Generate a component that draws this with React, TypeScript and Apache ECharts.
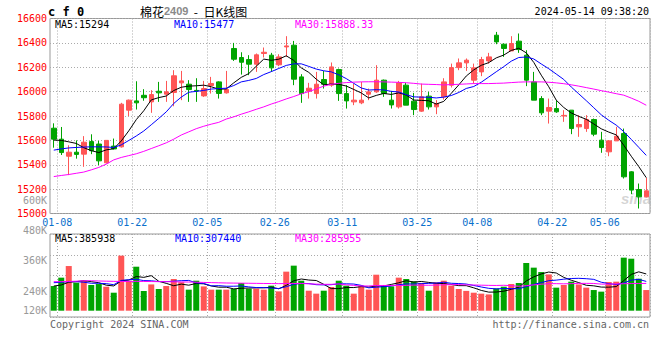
import React, { useEffect, useRef } from "react";
import * as echarts from "echarts";

const DATES = [
  "01-08","01-09","01-10","01-11","01-12","01-15","01-16","01-17","01-18","01-19",
  "01-22","01-23","01-24","01-25","01-26","01-29","01-30","01-31","02-01","02-02",
  "02-05","02-06","02-07","02-08","02-19","02-20","02-21","02-22","02-23","02-26",
  "02-27","02-28","03-01","03-04","03-05","03-06","03-07","03-08","03-11","03-12",
  "03-13","03-14","03-15","03-18","03-19","03-20","03-21","03-22","03-25","03-26",
  "03-27","03-28","03-29","04-01","04-02","04-03","04-08","04-09","04-10","04-11",
  "04-12","04-15","04-16","04-17","04-18","04-19","04-22","04-23","04-24","04-25",
  "04-26","04-29","04-30","05-06","05-07","05-08","05-09","05-10","05-13","05-14",
];
const XTICKS = ["01-08","01-22","02-05","02-26","03-11","03-25","04-08","04-22","05-06"];

const OPEN = [15700,15610,15470,15503,15487,15590,15570,15416,15553,15547,
  15848,15924,15970,15916,16003,15979,15993,16072,16061,16010,
  15965,16050,16080,15990,16354,16280,16263,16225,16313,16299,
  16220,16367,16381,16121,16004,15984,16099,16053,16181,15984,
  15916,15908,15979,15998,16094,15930,15875,16053,15922,15840,
  15963,15875,15957,16053,16197,16236,16094,16162,16252,16463,
  16389,16334,16414,16299,16080,15943,15840,15861,15800,15848,
  15711,15697,15771,15602,15506,15596,15656,15342,15197,15137];
const CLOSE = [15610,15500,15503,15485,15585,15515,15432,15600,15530,15897,
  15930,15908,15950,15976,15990,15998,16130,16088,16017,16005,
  16025,16067,15985,16017,16266,16241,16225,16302,16323,16195,
  16285,16375,16102,15984,16028,16061,16061,16203,15984,15924,
  15930,15930,15998,16094,15984,15891,16072,15889,15853,15957,
  15875,15902,16080,16197,16236,16258,16195,16263,16285,16408,
  16354,16395,16345,16094,15930,15826,15870,15834,15805,15697,
  15730,15771,15651,15541,15596,15634,15301,15192,15137,15186];
const LOW = [15540,15480,15315,15450,15383,15487,15397,15410,15525,15541,
  15800,15853,15925,15826,15916,15916,15880,15930,15916,15916,
  15957,15984,15943,15984,16252,16140,16135,16162,16280,16162,
  16209,16285,16053,15908,15943,15943,16025,16039,15924,15861,
  15889,15897,15930,15990,15957,15861,15861,15889,15807,15834,
  15853,15815,15935,16034,16176,16170,16066,16127,16230,16389,
  16285,16334,16318,16045,15930,15807,15738,15826,15752,15651,
  15629,15670,15634,15498,15470,15596,15287,15159,15041,15132];
const HIGH = [15740,15710,15560,15600,15635,15650,15596,15600,15615,15908,
  15935,16085,16020,16012,16080,16088,16176,16170,16094,16110,
  16088,16121,16085,16170,16400,16323,16299,16313,16362,16318,
  16307,16455,16416,16143,16072,16162,16170,16239,16189,16053,
  16066,16080,16025,16217,16099,16006,16088,16072,15990,16066,
  15998,15930,16110,16230,16272,16272,16230,16285,16318,16490,
  16395,16455,16477,16340,16162,15963,15943,15930,15848,15848,
  15807,15807,15779,15670,15602,15711,15697,15347,15246,15293];

const MA5 = [15602,15600,15588,15575,15540,15516,15500,15522,15532,15595,
  15678,15770,15843,15932,15951,15964,16009,16036,16045,16048,
  16053,16040,16020,16022,16072,16117,16148,16208,16267,16257,
  16266,16294,16256,16195,16158,16102,16056,16062,16060,16046,
  16018,15989,15948,15969,15985,15977,15990,15972,15931,15928,
  15925,15898,15920,15986,16055,16128,16178,16216,16238,16277,
  16300,16338,16356,16318,16240,16135,16040,15930,15870,15825,
  15797,15773,15735,15695,15668,15645,15560,15470,15385,15294];
const MA10 = [15520,15530,15538,15542,15545,15547,15547,15546,15542,15563,
  15599,15636,15677,15728,15780,15834,15903,15955,15995,16002,
  16010,16021,16025,16028,16050,16080,16092,16108,16140,16164,
  16190,16215,16228,16228,16207,16185,16171,16162,16138,16107,
  16068,16030,16013,16016,16014,16002,15997,15975,15957,15955,
  15954,15948,15955,15968,15993,16026,16042,16077,16120,16163,
  16205,16250,16280,16284,16268,16227,16188,16144,16100,16038,
  15982,15926,15868,15810,15765,15725,15672,15608,15543,15477];
const MA30 = [15303,15312,15320,15330,15340,15358,15378,15405,15440,15460,
  15475,15490,15510,15533,15556,15580,15610,15644,15670,15696,
  15716,15733,15748,15775,15793,15815,15834,15855,15875,15898,
  15918,15940,15960,15982,16000,16022,16045,16060,16068,16074,
  16078,16080,16081,16081,16080,16078,16076,16073,16068,16062,
  16060,16058,16055,16058,16060,16063,16066,16066,16066,16068,
  16070,16074,16078,16080,16080,16080,16077,16072,16065,16056,
  16045,16033,16021,16008,15996,15983,15971,15947,15921,15888.33];

const VOLUME = [259000,347000,469000,294000,315000,270000,280000,252000,189000,578000,
  315000,462000,207000,276000,228000,259000,333000,299000,221000,315000,
  255000,221000,221000,221000,228000,291000,231000,231000,221000,263000,
  203000,410000,473000,315000,210000,179000,210000,249000,315000,263000,
  179000,263000,221000,378000,263000,255000,347000,333000,308000,291000,
  210000,297000,315000,263000,228000,208000,189000,179000,171000,234000,
  252000,280000,291000,501000,452000,406000,381000,242000,270000,305000,
  276000,242000,217000,200000,301000,305000,557000,546000,336000,217000];
const VOL_MA5 = [259000,270000,299000,305000,315000,305000,294000,268000,260000,314000,
  322000,359000,350000,368000,309000,287000,262000,279000,268000,286000,
  282000,260000,247000,247000,229000,236000,238000,240000,240000,247000,
  230000,266000,314000,333000,322000,317000,277000,232000,232000,243000,
  243000,253000,248000,260000,260000,276000,293000,315000,301000,307000,
  297000,288000,285000,275000,263000,263000,240000,213000,195000,196000,
  205000,224000,246000,312000,355000,386000,406000,396000,350000,320000,
  295000,267000,261000,248000,247000,253000,316000,381000,408000,385938];
const VOL_MA10 = [294000,299000,305000,305000,299000,288000,288000,284000,273000,318000,
  325000,330000,316000,314000,306000,305000,310000,315000,318000,292000,
  286000,261000,263000,257000,257000,260000,250000,243000,243000,238000,
  233000,252000,277000,287000,285000,273000,271000,273000,282000,282000,
  280000,266000,240000,247000,252000,259000,273000,281000,280000,284000,
  287000,290000,299000,288000,285000,280000,265000,249000,235000,229000,
  233000,232000,230000,253000,276000,295000,315000,321000,331000,338000,
  340000,336000,329000,299000,284000,274000,291000,321000,329000,307440];
const VOL_MA30 = [305000,305000,307000,310000,315000,315000,312000,310000,308000,307000,
  307000,308000,307000,306000,305000,305000,303000,302000,301000,299000,
  297000,295000,293000,291000,290000,289000,288000,287000,286000,285000,
  284000,286000,286000,286000,282000,279000,277000,277000,281000,271000,
  266000,259000,260000,264000,265000,265000,265000,266000,269000,268000,
  267000,269000,272000,274000,274000,271000,270000,268000,266000,265000,
  267000,263000,256000,263000,271000,278000,284000,284000,282000,284000,
  287000,287000,286000,279000,280000,281000,283000,285000,286000,285955];

const PRICE_MIN = 15000;
const PRICE_MAX = 16600;
const PRICE_STEP = 200;
const VOL_TICK_LABELS = ["480K", "360K", "240K", "120K"];
const STRAY_VOL_LABEL = "600K";

const SYMBOL = "c f 0";
const NAME = "棉花";
const CONTRACT = "2409";
const CHART_KIND = "日K线图";
const TIMESTAMP = "2024-05-14 09:38:20";
const PRICE_MA_TEXT = ["MA5:15294", "MA10:15477", "MA30:15888.33"];
const VOL_MA_TEXT = ["MA5:385938", "MA10:307440", "MA30:285955"];
const COPYRIGHT = "Copyright 2024 SINA.COM";
const URL_TEXT = "http://finance.sina.com.cn";

const MONO = '"DejaVu Sans Mono", "Liberation Mono", monospace';
const RED = "#ff5555";
const GREEN = "#00a400";
const C_MA5 = "#000000";
const C_MA10 = "#0000ff";
const C_MA30 = "#ff00ff";

function txt(x: number, y: number, text: string, fill: string, align = "left", font = `10px ${MONO}`) {
  return {
    type: "text",
    x,
    y,
    silent: true,
    z: 100,
    style: {
      text,
      fill,
      font,
      align,
      textAlign: align,
      verticalAlign: "middle",
      textVerticalAlign: "middle",
    },
  };
}

export default function App() {
  const ref = useRef<HTMLDivElement>(null);

  useEffect(() => {
    if (!ref.current) return;
    const chart = echarts.init(ref.current, undefined, { renderer: "svg" });

    const candles = DATES.map((_, i) => [OPEN[i], CLOSE[i], LOW[i], HIGH[i]]);
    const vols = VOLUME.map((v, i) => ({
      value: v,
      itemStyle: { color: CLOSE[i] >= OPEN[i] ? RED : GREEN },
    }));

    const splitX = {
      show: true,
      interval: (idx: number) => idx > 0 && XTICKS.includes(DATES[idx - 1]),
      lineStyle: { color: "#aaaaaa", type: [1, 2], width: 1 },
    };

    const lineSeries = (name: string, data: number[], color: string, xi: number, yi: number) => ({
      name,
      type: "line",
      xAxisIndex: xi,
      yAxisIndex: yi,
      data,
      showSymbol: false,
      symbol: "none",
      smooth: false,
      silent: true,
      lineStyle: { color, width: 1 },
      z: 5,
    });

    const volPerPx = 10500;
    const graphics: any[] = [
      txt(48, 12, SYMBOL, "#000", "left", `bold 12px ${MONO}`),
      {
        type: "text",
        x: 140,
        y: 11,
        silent: true,
        z: 100,
        style: {
          text: `{a|${NAME}}{b|${CONTRACT}}{a|  -  ${CHART_KIND}}`,
          verticalAlign: "middle",
          textVerticalAlign: "middle",
          rich: {
            a: { font: '12px "Noto Sans CJK SC", sans-serif', fill: "#000" },
            b: { font: 'bold 11px "Liberation Sans", Arial, sans-serif', fill: "#8a8a8a" },
          },
        },
      },
      txt(649, 11, TIMESTAMP, "#000", "right"),
      txt(55, 24, PRICE_MA_TEXT[0], C_MA5),
      txt(174, 24, PRICE_MA_TEXT[1], C_MA10),
      txt(295, 24, PRICE_MA_TEXT[2], C_MA30),
      txt(55, 238, VOL_MA_TEXT[0], C_MA5),
      txt(175, 238, VOL_MA_TEXT[1], C_MA10),
      txt(295, 238, VOL_MA_TEXT[2], C_MA30),
      txt(47, 200.5, STRAY_VOL_LABEL, "#999", "right"),
      txt(47, 230.5, VOL_TICK_LABELS[0], "#999", "right"),
      txt(47, 260, VOL_TICK_LABELS[1], "#999", "right"),
      txt(47, 291, VOL_TICK_LABELS[2], "#999", "right"),
      txt(47, 310.5, VOL_TICK_LABELS[3], "#999", "right"),
      txt(50, 324, COPYRIGHT, "#666"),
      txt(649, 324, URL_TEXT, "#666", "right"),
      {
        type: "text",
        x: 636,
        y: 198,
        silent: true,
        z: 0,
        style: {
          text: "sina",
          fill: "rgba(160,160,160,0.45)",
          font: 'italic bold 15px "Liberation Sans", Arial, sans-serif',
          align: "center",
          textAlign: "center",
          verticalAlign: "middle",
          textVerticalAlign: "middle",
        },
      },
    ];

    const option: any = {
      animation: false,
      backgroundColor: "#ffffff",
      grid: [
        { left: 50, width: 600, top: 18.5, height: 195, show: true, borderColor: "#999", borderWidth: 1, backgroundColor: "transparent" },
        { left: 50, width: 600, top: 234, height: 83, show: true, borderColor: "#999", borderWidth: 1, backgroundColor: "transparent" },
      ],
      xAxis: [
        {
          type: "category",
          gridIndex: 0,
          data: DATES,
          boundaryGap: true,
          axisLine: { show: false },
          axisTick: { show: false },
          axisLabel: {
            interval: (_: number, v: string) => XTICKS.includes(v),
            color: "#0a70cc",
            fontFamily: MONO,
            fontSize: 10,
            margin: 4,
            padding: [0, 0, 0, 7],
          },
          splitLine: splitX,
        },
        {
          type: "category",
          gridIndex: 1,
          data: DATES,
          boundaryGap: true,
          axisLine: { show: false },
          axisTick: { show: false },
          axisLabel: { show: false },
          splitLine: splitX,
        },
      ],
      yAxis: [
        {
          type: "value",
          gridIndex: 0,
          min: PRICE_MIN,
          max: PRICE_MAX,
          interval: PRICE_STEP,
          axisLine: { show: false },
          axisTick: { show: false },
          axisLabel: {
            color: "#ff0000",
            fontFamily: MONO,
            fontSize: 10,
            margin: 3,
            formatter: (v: number) => String(v),
          },
          splitLine: { show: true, lineStyle: { color: "#aaaaaa", type: [1, 2], width: 1 } },
        },
        {
          type: "value",
          gridIndex: 0,
          show: false,
          min: PRICE_MIN,
          max: PRICE_MAX,
          splitLine: { show: false },
        },
        {
          type: "value",
          gridIndex: 1,
          min: -6.3 * volPerPx,
          max: 76.7 * volPerPx,
          axisLine: { show: false },
          axisTick: { show: false },
          axisLabel: { show: false },
          splitLine: { show: false },
        },
        {
          type: "value",
          gridIndex: 1,
          position: "left",
          min: 0,
          max: 4,
          interval: 1,
          axisLine: { show: false },
          axisTick: { show: false },
          axisLabel: { show: false },
          splitLine: { show: true, lineStyle: { color: "#aaaaaa", type: [1, 2], width: 1 } },
        },
      ],
      series: [
        {
          name: "K",
          type: "candlestick",
          xAxisIndex: 0,
          yAxisIndex: 0,
          data: candles,
          barWidth: 5,
          silent: true,
          itemStyle: {
            color: RED,
            color0: GREEN,
            borderColor: RED,
            borderColor0: GREEN,
            borderWidth: 1,
          },
          z: 3,
        },
        lineSeries("MA5", MA5, C_MA5, 0, 0),
        lineSeries("MA10", MA10, C_MA10, 0, 0),
        lineSeries("MA30", MA30, C_MA30, 0, 0),
        {
          name: "VOL",
          type: "bar",
          xAxisIndex: 1,
          yAxisIndex: 2,
          data: vols,
          barWidth: 6,
          silent: true,
          z: 3,
        },
        lineSeries("VMA5", VOL_MA5, C_MA5, 1, 2),
        lineSeries("VMA10", VOL_MA10, C_MA10, 1, 2),
        lineSeries("VMA30", VOL_MA30, C_MA30, 1, 2),
      ],
      graphic: graphics,
    };

    chart.setOption(option);
    return () => chart.dispose();
  }, []);

  return (
    <div
      ref={ref}
      style={{ position: "fixed", left: 0, top: 0, width: 660, height: 360, background: "#fff" }}
    />
  );
}
